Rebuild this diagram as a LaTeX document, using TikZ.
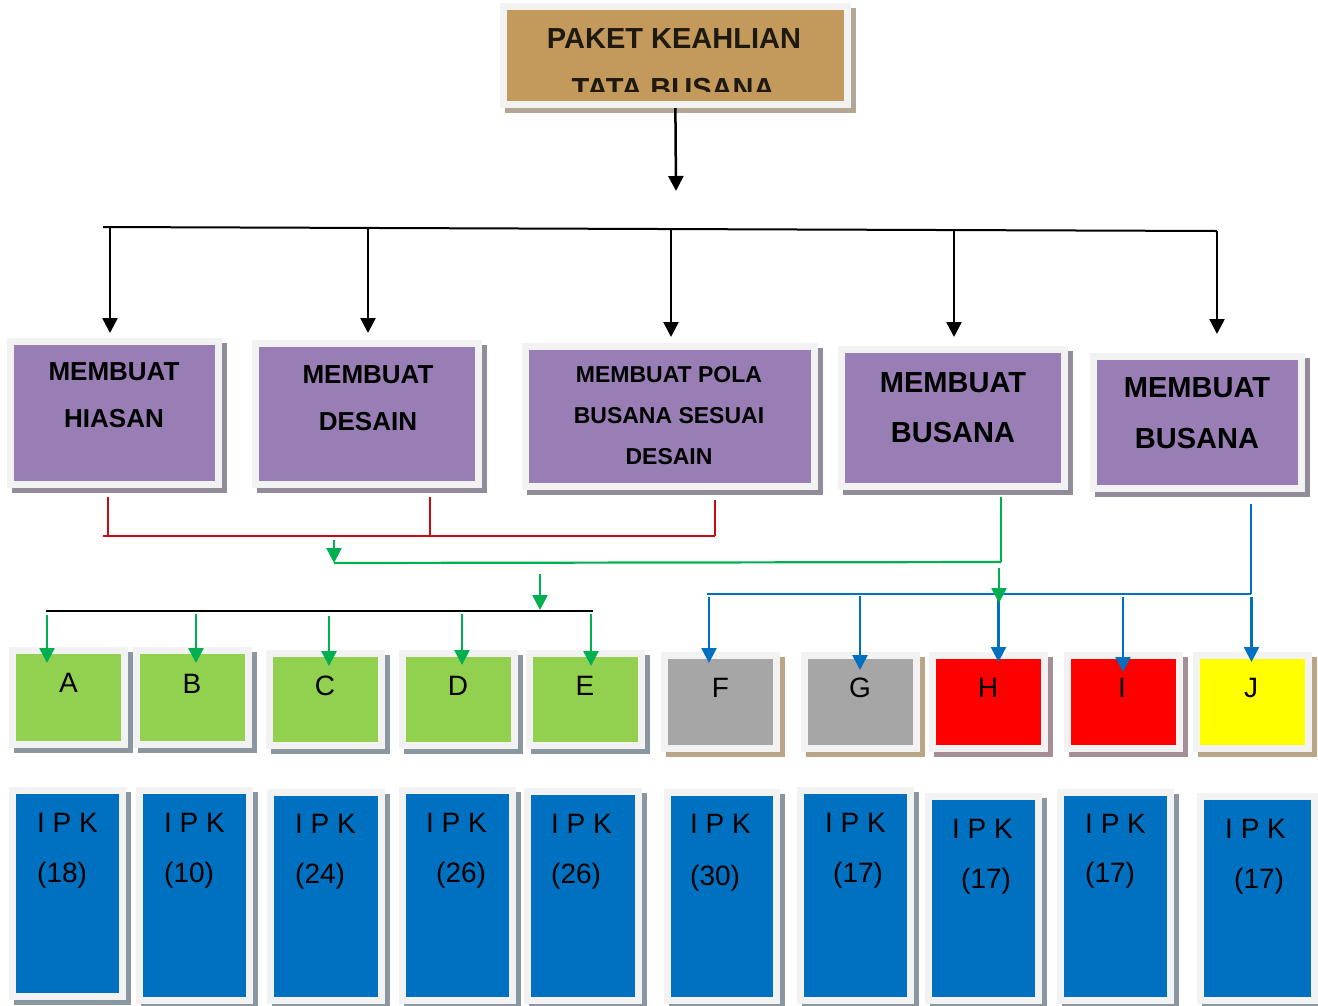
\documentclass[tikz,border=0pt]{standalone}
\usepackage{fontspec}
\setmainfont{Liberation Sans}
\usetikzlibrary{arrows.meta}
\definecolor{framegray}{HTML}{F2F2F2}
\definecolor{paketfill}{HTML}{C39A5C}
\definecolor{paketshadow}{RGB}{180,166,148}
\definecolor{purpfill}{RGB}{153,125,181}
\definecolor{purpshadow}{RGB}{146,140,154}
\definecolor{lettgreen}{HTML}{92D050}
\definecolor{lettgray}{HTML}{A6A6A6}
\definecolor{lettred}{HTML}{FF0000}
\definecolor{lettyellow}{HTML}{FFFF00}
\definecolor{ipkblue}{HTML}{0070C0}
\definecolor{blueshadow}{RGB}{138,150,160}
\definecolor{tanshadow}{RGB}{186,165,134}
\definecolor{mauveshadow}{RGB}{166,142,150}
\definecolor{linered}{RGB}{204,10,20}
\definecolor{linegreen}{HTML}{00B050}
\definecolor{lineblue}{HTML}{0070C0}

\begin{document}
\begin{tikzpicture}[x=1pt, y=-1pt,
    box/.style={draw=framegray, line width=7pt, inner sep=0pt, outer sep=3.5pt},
    shad/.style={preaction={draw=#1, fill=#1, transform canvas={xshift=5pt, yshift=-5pt}}},
    ttl/.style={anchor=base, inner sep=0pt, font=\bfseries\fontsize{29}{34}\selectfont, text={rgb,255:red,30;green,26;blue,18}},
    mtxt/.style={anchor=base, inner sep=0pt, font=\bfseries\fontsize{#1}{#1}\selectfont},
    lett/.style={anchor=base, inner sep=0pt, font=\fontsize{28}{28}\selectfont},
    ipk/.style={anchor=base west, inner sep=0pt, font=\fontsize{28}{28}\selectfont},
    tip/.style={-{Triangle[length=15pt,width=15pt]}},
    blackline/.style={line width=2pt},
    arr/.style={blackline, line width=2.5pt, tip, shorten >=6pt},
    redline/.style={draw=linered, line width=1.8pt},
    greenline/.style={draw=linegreen, line width=2.2pt},
    greenarr/.style={greenline, line width=2.5pt, tip},
    blueline/.style={draw=lineblue, line width=2.2pt},
    bluearr/.style={blueline, line width=2.5pt, tip}]
    \useasboundingbox (0,0) rectangle (1318,1005);

    % top box
    \node[box, shad=paketshadow, fill=paketfill, minimum width=344pt, minimum height=98pt] (top) at (675,55.5) {};
    \node[ttl] (t1) at (674,48) {PAKET KEAHLIAN};
    \begin{scope}
        \clip (507,11) rectangle (843,91);
        \node[ttl] (t2) at (673,98) {TATA BUSANA};
    \end{scope}

    % purple boxes
    \node[box, shad=purpshadow, fill=purpfill, minimum width=208pt, minimum height=143pt] (m1) at (114.5,413) {};
    \node[box, shad=purpshadow, fill=purpfill, minimum width=223pt, minimum height=141pt] (m2) at (367,414) {};
    \node[box, shad=purpshadow, fill=purpfill, minimum width=289pt, minimum height=140pt] (m3) at (670,416.5) {};
    \node[box, shad=purpshadow, fill=purpfill, minimum width=223pt, minimum height=137pt] (m4) at (953,418) {};
    \node[box, shad=purpshadow, fill=purpfill, minimum width=208pt, minimum height=132pt] (m5) at (1197.5,422.5) {};
    \node[mtxt=26] (m1a) at (114,380) {MEMBUAT};
    \node[mtxt=26] (m1b) at (114,427) {HIASAN};
    \node[mtxt=26] (m2a) at (368,383) {MEMBUAT};
    \node[mtxt=26] (m2b) at (368,430) {DESAIN};
    \node[mtxt=23] (m3a) at (669,382) {MEMBUAT POLA};
    \node[mtxt=23] (m3b) at (669,423) {BUSANA SESUAI};
    \node[mtxt=23] (m3c) at (669,464) {DESAIN};
    \node[mtxt=29] (m4a) at (953,392) {MEMBUAT};
    \node[mtxt=29] (m4b) at (953,442) {BUSANA};
    \node[mtxt=29] (m5a) at (1197,397) {MEMBUAT};
    \node[mtxt=29] (m5b) at (1197,448) {BUSANA};

    % letter boxes
    \node[box, shad=blueshadow, fill=lettgreen, minimum width=112pt, minimum height=94pt] (A) at (68.5,697.5) {};
    \node[box, shad=blueshadow, fill=lettgreen, minimum width=112pt, minimum height=94pt] (B) at (192.5,697.5) {};
    \node[box, shad=blueshadow, fill=lettgreen, minimum width=112pt, minimum height=92pt] (C) at (325.5,699.5) {};
    \node[box, shad=blueshadow, fill=lettgreen, minimum width=112pt, minimum height=92pt] (D) at (458.5,699.5) {};
    \node[box, shad=blueshadow, fill=lettgreen, minimum width=112pt, minimum height=92pt] (E) at (585.5,699.5) {};
    \node[box, shad=tanshadow, fill=lettgray, minimum width=112pt, minimum height=93pt] (F) at (720.5,702) {};
    \node[box, shad=tanshadow, fill=lettgray, minimum width=112pt, minimum height=93pt] (G) at (860,702) {};
    \node[box, shad=mauveshadow, fill=lettred, minimum width=112pt, minimum height=93pt] (H) at (988,702) {};
    \node[box, shad=mauveshadow, fill=lettred, minimum width=112pt, minimum height=93pt] (I) at (1123,702) {};
    \node[box, shad=tanshadow, fill=lettyellow, minimum width=112pt, minimum height=93pt] (J) at (1252,702) {};
    \node[lett] (tA) at (68.5,692) {A};
    \node[lett] (tB) at (192,693) {B};
    \node[lett] (tC) at (325,695) {C};
    \node[lett] (tD) at (458,695) {D};
    \node[lett] (tE) at (585,695) {E};
    \node[lett] (tF) at (720.5,697) {F};
    \node[lett] (tG) at (860,697) {G};
    \node[lett] (tH) at (988,697) {H};
    \node[lett] (tI) at (1122,697) {I};
    \node[lett] (tJ) at (1251,697) {J};

    % IPK boxes
    \node[box, shad=blueshadow, fill=ipkblue, minimum width=110pt, minimum height=206pt] (p1) at (67.5,893.5) {};
    \node[box, shad=blueshadow, fill=ipkblue, minimum width=110pt, minimum height=210pt] (p2) at (194.5,895.5) {};
    \node[box, shad=blueshadow, fill=ipkblue, minimum width=111pt, minimum height=208pt] (p3) at (326,896.5) {};
    \node[box, shad=blueshadow, fill=ipkblue, minimum width=110pt, minimum height=210pt] (p4) at (457.5,895.5) {};
    \node[box, shad=blueshadow, fill=ipkblue, minimum width=111pt, minimum height=209pt] (p5) at (583,896) {};
    \node[box, shad=blueshadow, fill=ipkblue, minimum width=109pt, minimum height=208pt] (p6) at (722,896.5) {};
    \node[box, shad=blueshadow, fill=ipkblue, minimum width=110pt, minimum height=210pt] (p7) at (855.5,895.5) {};
    \node[box, shad=blueshadow, fill=ipkblue, minimum width=110pt, minimum height=204pt] (p8) at (983.5,898.5) {};
    \node[box, shad=blueshadow, fill=ipkblue, minimum width=110pt, minimum height=208pt] (p9) at (1115.5,896.5) {};
    \node[box, shad=blueshadow, fill=ipkblue, minimum width=114pt, minimum height=204pt] (p10) at (1257.5,898.5) {};
    \node[ipk] (p1a) at (37,832) {I P K};
    \node[ipk] (p1b) at (37,882) {(18)};
    \node[ipk] (p2a) at (164,832) {I P K};
    \node[ipk] (p2b) at (164,882) {(10)};
    \node[ipk] (p3a) at (295,833) {I P K};
    \node[ipk] (p3b) at (295,883) {(24)};
    \node[ipk] (p4a) at (426,832) {I P K};
    \node[ipk] (p4b) at (436,882) {(26)};
    \node[ipk] (p5a) at (551,833) {I P K};
    \node[ipk] (p5b) at (551,883) {(26)};
    \node[ipk] (p6a) at (690,833) {I P K};
    \node[ipk] (p6b) at (690,885) {(30)};
    \node[ipk] (p7a) at (825,832) {I P K};
    \node[ipk] (p7b) at (833,882) {(17)};
    \node[ipk] (p8a) at (952,838) {I P K};
    \node[ipk] (p8b) at (961,888) {(17)};
    \node[ipk] (p9a) at (1085,833) {I P K};
    \node[ipk] (p9b) at (1085,882) {(17)};
    \node[ipk] (p10a) at (1225,838) {I P K};
    \node[ipk] (p10b) at (1234,888) {(17)};

    % top to bus
    \coordinate (hub) at (676,191);
    \draw[arr, shorten >=0pt] (top) -- (hub);
    \coordinate (busL) at (103,227);
    \coordinate (busR) at (1217,231);
    \draw[blackline] (busL) -- (busR);
    \coordinate (b1) at (110,228);
    \coordinate (b2) at (368,228.5);
    \coordinate (b3) at (671,229.5);
    \coordinate (b4) at (954,230);
    \coordinate (b5) at (1217,231);
    \draw[arr, shorten >=5pt] (b1) -- (b1 |- m1.north);
    \draw[arr, shorten >=7pt] (b2) -- (b2 |- m2.north);
    \draw[arr] (b3) -- (b3 |- m3.north);
    \draw[arr, shorten >=9pt] (b4) -- (b4 |- m4.north);
    \draw[arr, shorten >=19pt] (b5) -- (b5 |- m5.north);

    % red join
    \coordinate (r0) at (103,536);
    \coordinate (r1) at (108,536);
    \coordinate (r2) at (430,536);
    \coordinate (r3) at (715,536);
    \draw[redline] (r0) -- (r3);
    \draw[redline, shorten <=9pt] (m1.south -| r1) -- (r1);
    \draw[redline, shorten <=9pt] (m2.south -| r2) -- (r2);
    \draw[redline, shorten <=10pt] (m3.south -| r3) -- (r3);

    % green join
    \coordinate (g0) at (334,540);
    \coordinate (g1) at (334,563);
    \coordinate (g2) at (1001,562);
    \draw[greenarr] (g0) -- (g1);
    \draw[greenline] (g1) -- (g2);
    \draw[greenline, shorten <=7pt] (m4.south -| g2) -- (g2);
    \coordinate (g3) at (540,574);
    \coordinate (k0) at (540,610);
    \coordinate (kL) at (46,611);
    \coordinate (kR) at (593,611);
    \draw[blackline] (kL) -- (kR);
    \draw[greenarr] (g3) -- (k0);
    \coordinate (k1) at (47,615);
    \coordinate (k2) at (196,614);
    \coordinate (k3) at (329,616);
    \coordinate (k4) at (462,614);
    \coordinate (k5) at (591,614);
    \draw[greenarr, shorten >=-16pt] (k1) -- (k1 |- A.north);
    \draw[greenarr, shorten >=-16pt] (k2) -- (k2 |- B.north);
    \draw[greenarr, shorten >=-16pt] (k3) -- (k3 |- C.north);
    \draw[greenarr, shorten >=-15pt] (k4) -- (k4 |- D.north);
    \draw[greenarr, shorten >=-16pt] (k5) -- (k5 |- E.north);

    % blue join
    \coordinate (uL) at (707,594);
    \coordinate (uR) at (1251,594);
    \draw[blueline, shorten <=12pt] (m5.south -| uR) -- (uR);
    \draw[blueline] (uL) -- (uR);
    \coordinate (u1) at (709,597);
    \coordinate (u2) at (860,596);
    \coordinate (u3) at (998.5,597);
    \coordinate (u4) at (1123,597);
    \coordinate (u5) at (1251.5,597);
    \draw[bluearr, shorten >=-11pt] (u1) -- (u1 |- F.north);
    \draw[bluearr, shorten >=-18pt] (u2) -- (u2 |- G.north);
    \draw[bluearr, shorten >=-10pt] (u3) -- (u3 |- H.north);
    \draw[bluearr, shorten >=-20pt] (u4) -- (u4 |- I.north);
    \draw[bluearr, shorten >=-10pt] (u5) -- (u5 |- J.north);
    \coordinate (g4) at (999,568);
    \coordinate (g5) at (999,603);
    \draw[greenarr] (g4) -- (g5);
\end{tikzpicture}
\end{document}
